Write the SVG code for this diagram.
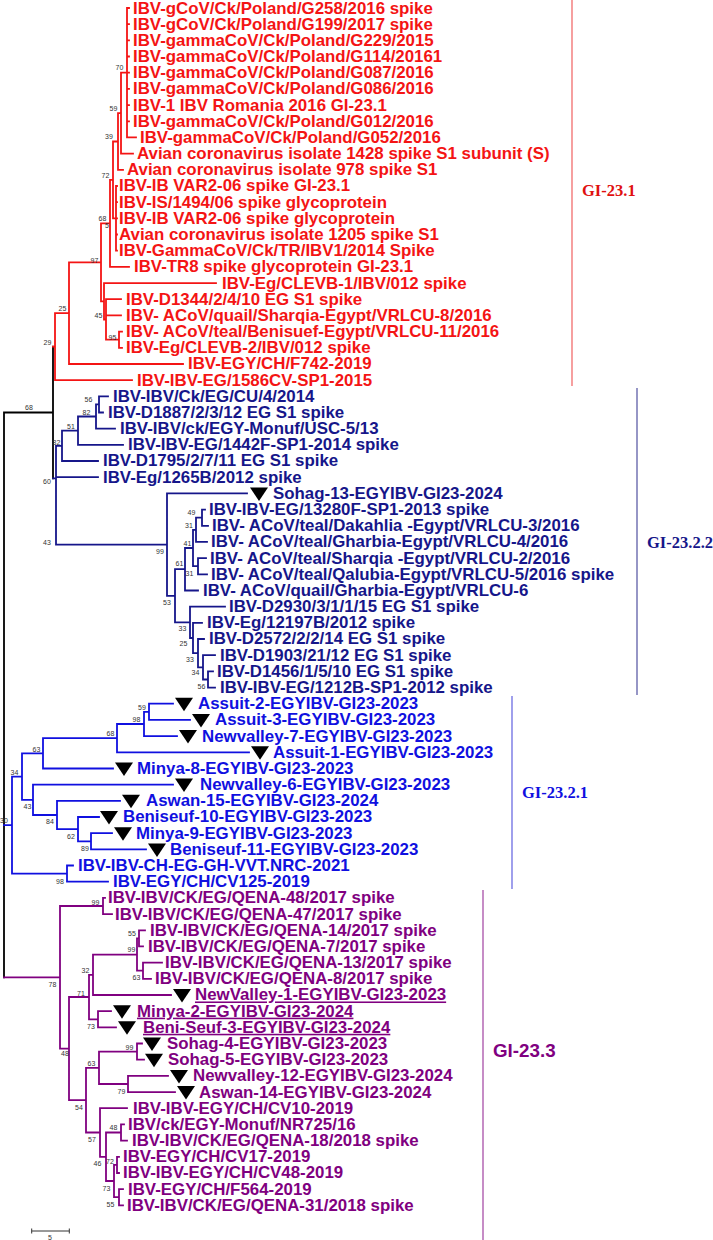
<svg xmlns="http://www.w3.org/2000/svg" xmlns:xlink="http://www.w3.org/1999/xlink" width="713" height="1240" viewBox="0 0 713 1240">
<style>
.t{font-family:"Liberation Sans",Arial,sans-serif;font-weight:bold;font-size:15.7px;transform:scaleX(1.075);transform-box:fill-box;transform-origin:0 50%}
.r{fill:#f41414}.n{fill:#16168a}.b{fill:#1010e0}.p{fill:#800080}
.u{text-decoration:underline}
.bs{font-family:"Liberation Sans",Arial,sans-serif;font-size:7px;fill:#333;text-anchor:middle}
.br{fill:none;stroke-width:1.8;stroke-linecap:square}
.cl{fill:none;stroke-width:1.2}
.gs{font-family:"Liberation Serif","Times New Roman",serif;font-weight:bold;font-size:16.5px}
</style>
<defs>
<path id="tri" d="M0,-6H18L9,7.5Z" fill="#000"/>
</defs>
<rect width="713" height="1240" fill="#fff"/>
<g id="connectors">
<path class="br" stroke="#000" d="M4 412.5V977.3M4 412.5H53M53 346.6V478.4"/>
<path class="br" stroke="#f41414" d="M127 8V137.4M127 8H129M127 24.2H129M127 40.4H129M127 56.5H129M127 72.7H129M127 88.9H129M127 105.1H129M127 121.3H129M127 137.4H136M121 72.7V153.6M121 72.7H127M121 153.6H133M118 113.2V169.8M118 113.2H121M118 169.8H123M116 186V250.7M116 186H117M116 202.2H117M116 218.3H117M116 234.5H117M116 250.7H117M113 141.5V218.3M113 141.5H118M113 218.3H116M110 179.9V266.9M110 179.9H113M110 266.9H129M101 223.4V301.3M101 223.4H110M104 283.1V319.5M101 301.3H104M104 283.1H216M106 299.2V339.7M104 319.5H106M106 299.2H121M106 315.4H121M106 339.7H119M119 331.6V347.8M119 331.6H122M119 347.8H122M69 262.3V364M69 262.3H101M69 364H183M55 313.1V380.1M55 313.1H69M55 380.1H132M53 346.6H55"/>
<path class="br" stroke="#16168a" d="M56 445.9V544.6M53 478.4H56M62 430.7V461M56 445.9H62M62 461H98M56 477.2H98M78 416.5V444.9M62 430.7H78M78 444.9H123M96 404.4V428.7M78 416.5H96M96 428.7H115M99 396.3V412.5M96 404.4H99M99 396.3H108M99 412.5H103M167 493.4V595.8M56 544.6H167M167 493.4H247M175 569.2V622.3M167 595.8H175M185 548V590.5M175 569.2H185M185 590.5H198M193 529.8V566.2M185 548H193M196 517.7V541.9M193 529.8H196M196 541.9H207M202 509.6V525.8M196 517.7H202M202 509.6H205M202 525.8H208M198 558.1V574.3M193 566.2H198M198 558.1H206M198 574.3H207M190 606.7V638M175 622.3H190M190 606.7H225M193 622.8V653.2M190 638H193M193 622.8H202M198 639V667.3M193 653.2H198M198 639H204M203 655.2V679.5M198 667.3H203M203 655.2H215M208 671.4V687.6M203 679.5H208M208 671.4H213M208 687.6H215"/>
<path class="br" stroke="#1010e0" d="M12 776.6V873.6M4 825.1H12M22 753.3V799.8M12 776.6H22M43 738.1V768.5M22 753.3H43M43 768.5H113M117 724V752.3M43 738.1H117M117 752.3H249M144 711.8V736.1M117 724H144M144 736.1H177M149 703.7V719.9M144 711.8H149M149 703.7H173M149 719.9H190M33 784.6V815M22 799.8H33M33 784.6H173M57 800.8V829.1M33 815H57M57 800.8H120M78 817V841.3M57 829.1H78M78 817H99M91 833.2V849.4M78 841.3H91M91 833.2H112M91 849.4H146M67 865.5V881.7M12 873.6H67M67 865.5H73M67 881.7H108"/>
<path class="br" stroke="#800080" d="M60 906V1048.6M4 977.3H60M103 897.9V914.1M60 906H103M103 897.9H105M103 914.1H112M69 997V1100.2M60 1048.6H69M89 974.8V1019.3M69 997H89M93 954.6V995M89 974.8H93M93 995H171M137 938.4V970.7M93 954.6H137M139 930.3V946.4M137 938.4H139M139 930.3H145M139 946.4H143M143 962.6V978.8M137 970.7H143M143 962.6H162M143 978.8H151M98 1011.2V1027.3M89 1019.3H98M98 1011.2H111M98 1027.3H116M86 1067.8V1132.5M69 1100.2H86M99 1051.6V1084M86 1067.8H99M137 1043.5V1059.7M99 1051.6H137M137 1043.5H142M137 1059.7H144M128 1075.9V1092.1M99 1084H128M128 1075.9H168M128 1092.1H175M100 1108.2V1156.8M86 1132.5H100M100 1108.2H127M106 1132.5V1181M100 1156.8H106M121 1124.4V1140.6M106 1132.5H121M121 1124.4H124M121 1140.6H127M114 1164.9V1197.2M106 1181H114M117 1156.8V1173M114 1164.9H117M117 1156.8H119M117 1173H119M119 1189.1V1205.3M114 1197.2H119M119 1189.1H123M119 1205.3H123"/>
</g>
<g id="clades">
<line class="cl" stroke="#f06060" x1="572" y1="0" x2="572" y2="386"/>
<text class="gs" fill="#e01010" x="582" y="196">GI-23.1</text>
<line class="cl" stroke="#5050a0" x1="637" y1="388" x2="637" y2="695"/>
<text class="gs" fill="#16168a" x="647" y="548">GI-23.2.2</text>
<line class="cl" stroke="#6060e0" x1="512" y1="696" x2="512" y2="889"/>
<text class="gs" fill="#1010e0" x="522" y="798">GI-23.2.1</text>
<line class="cl" stroke="#a040a0" x1="483" y1="890" x2="483" y2="1240"/>
<text class="t p" style="font-size:17.5px" x="493" y="1057">GI-23.3</text>
</g>
<g id="leaves">
<g id="n1"><text class="t r" x="133" y="13.5">IBV-gCoV/Ck/Poland/G258/2016 spike</text></g>
<g id="n2"><text class="t r" x="133" y="29.7">IBV-gCoV/Ck/Poland/G199/2017 spike</text></g>
<g id="n3"><text class="t r" x="133" y="45.9">IBV-gammaCoV/Ck/Poland/G229/2015</text></g>
<g id="n4"><text class="t r" x="133" y="62">IBV-gammaCoV/Ck/Poland/G114/20161</text></g>
<g id="n5"><text class="t r" x="133" y="78.2">IBV-gammaCoV/Ck/Poland/G087/2016</text></g>
<g id="n6"><text class="t r" x="133" y="94.4">IBV-gammaCoV/Ck/Poland/G086/2016</text></g>
<g id="n7"><text class="t r" x="133" y="110.6">IBV-1 IBV Romania 2016 GI-23.1</text></g>
<g id="n8"><text class="t r" x="133" y="126.8">IBV-gammaCoV/Ck/Poland/G012/2016</text></g>
<g id="n9"><text class="t r" x="140" y="142.9">IBV-gammaCoV/Ck/Poland/G052/2016</text></g>
<g id="n10"><text class="t r" x="137" y="159.1">Avian coronavirus isolate 1428 spike S1 subunit (S)</text></g>
<g id="n11"><text class="t r" x="127" y="175.3">Avian coronavirus isolate 978 spike S1</text></g>
<g id="n12"><text class="t r" x="119" y="191.5">IBV-IB VAR2-06 spike GI-23.1</text></g>
<g id="n13"><text class="t r" x="119" y="207.7">IBV-IS/1494/06 spike glycoprotein</text></g>
<g id="n14"><text class="t r" x="119" y="223.8">IBV-IB VAR2-06 spike glycoprotein</text></g>
<g id="n15"><text class="t r" x="119" y="240">Avian coronavirus isolate 1205 spike S1</text></g>
<g id="n16"><text class="t r" x="119" y="256.2">IBV-GammaCoV/Ck/TR/IBV1/2014 Spike</text></g>
<g id="n17"><text class="t r" x="134" y="272.4">IBV-TR8 spike glycoprotein GI-23.1</text></g>
<g id="n18"><text class="t r" x="222" y="288.6">IBV-Eg/CLEVB-1/IBV/012 spike</text></g>
<g id="n19"><text class="t r" x="126" y="304.7">IBV-D1344/2/4/10 EG S1 spike</text></g>
<g id="n20"><text class="t r" x="126" y="320.9">IBV- ACoV/quail/Sharqia-Egypt/VRLCU-8/2016</text></g>
<g id="n21"><text class="t r" x="126" y="337.1">IBV- ACoV/teal/Benisuef-Egypt/VRLCU-11/2016</text></g>
<g id="n22"><text class="t r" x="126" y="353.3">IBV-Eg/CLEVB-2/IBV/012 spike</text></g>
<g id="n23"><text class="t r" x="188" y="369.5">IBV-EGY/CH/F742-2019</text></g>
<g id="n24"><text class="t r" x="137" y="385.6">IBV-IBV-EG/1586CV-SP1-2015</text></g>
<g id="n25"><text class="t n" x="113" y="401.8">IBV-IBV/Ck/EG/CU/4/2014</text></g>
<g id="n26"><text class="t n" x="108" y="418">IBV-D1887/2/3/12 EG S1 spike</text></g>
<g id="n27"><text class="t n" x="120" y="434.2">IBV-IBV/ck/EGY-Monuf/USC-5/13</text></g>
<g id="n28"><text class="t n" x="128" y="450.4">IBV-IBV-EG/1442F-SP1-2014 spike</text></g>
<g id="n29"><text class="t n" x="103" y="466.5">IBV-D1795/2/7/11 EG S1 spike</text></g>
<g id="n30"><text class="t n" x="103" y="482.7">IBV-Eg/1265B/2012 spike</text></g>
<g id="n31"><use href="#tri" x="250" y="493.4"/><text class="t n" x="273" y="498.9">Sohag-13-EGYIBV-GI23-2024</text></g>
<g id="n32"><text class="t n" x="209" y="515.1">IBV-IBV-EG/13280F-SP1-2013 spike</text></g>
<g id="n33"><text class="t n" x="212" y="531.3">IBV- ACoV/teal/Dakahlia -Egypt/VRLCU-3/2016</text></g>
<g id="n34"><text class="t n" x="211" y="547.4">IBV- ACoV/teal/Gharbia-Egypt/VRLCU-4/2016</text></g>
<g id="n35"><text class="t n" x="210" y="563.6">IBV- ACoV/teal/Sharqia -Egypt/VRLCU-2/2016</text></g>
<g id="n36"><text class="t n" x="211" y="579.8">IBV- ACoV/teal/Qalubia-Egypt/VRLCU-5/2016 spike</text></g>
<g id="n37"><text class="t n" x="203" y="596">IBV- ACoV/quail/Gharbia-Egypt/VRLCU-6</text></g>
<g id="n38"><text class="t n" x="229" y="612.2">IBV-D2930/3/1/1/15 EG S1 spike</text></g>
<g id="n39"><text class="t n" x="207" y="628.3">IBV-Eg/12197B/2012 spike</text></g>
<g id="n40"><text class="t n" x="209" y="644.5">IBV-D2572/2/2/14 EG S1 spike</text></g>
<g id="n41"><text class="t n" x="220" y="660.7">IBV-D1903/21/12 EG S1 spike</text></g>
<g id="n42"><text class="t n" x="217" y="676.9">IBV-D1456/1/5/10 EG S1 spike</text></g>
<g id="n43"><text class="t n" x="220" y="693.1">IBV-IBV-EG/1212B-SP1-2012 spike</text></g>
<g id="n44"><use href="#tri" x="175" y="703.7"/><text class="t b" x="198" y="709.2">Assuit-2-EGYIBV-GI23-2023</text></g>
<g id="n45"><use href="#tri" x="192" y="719.9"/><text class="t b" x="215" y="725.4">Assuit-3-EGYIBV-GI23-2023</text></g>
<g id="n46"><use href="#tri" x="179" y="736.1"/><text class="t b" x="202" y="741.6">Newvalley-7-EGYIBV-GI23-2023</text></g>
<g id="n47"><use href="#tri" x="251" y="752.3"/><text class="t b" x="273" y="757.8">Assuit-1-EGYIBV-GI23-2023</text></g>
<g id="n48"><use href="#tri" x="115" y="768.5"/><text class="t b" x="137" y="774">Minya-8-EGYIBV-GI23-2023</text></g>
<g id="n49"><use href="#tri" x="175" y="784.6"/><text class="t b" x="200" y="790.1">Newvalley-6-EGYIBV-GI23-2023</text></g>
<g id="n50"><use href="#tri" x="122" y="800.8"/><text class="t b" x="146" y="806.3">Aswan-15-EGYIBV-GI23-2024</text></g>
<g id="n51"><use href="#tri" x="100" y="817"/><text class="t b" x="123" y="822.5">Beniseuf-10-EGYIBV-GI23-2023</text></g>
<g id="n52"><use href="#tri" x="114" y="833.2"/><text class="t b" x="136" y="838.7">Minya-9-EGYIBV-GI23-2023</text></g>
<g id="n53"><use href="#tri" x="148" y="849.4"/><text class="t b" x="170" y="854.9">Beniseuf-11-EGYIBV-GI23-2023</text></g>
<g id="n54"><text class="t b" x="78" y="871">IBV-IBV-CH-EG-GH-VVT.NRC-2021</text></g>
<g id="n55"><text class="t b" x="113" y="887.2">IBV-EGY/CH/CV125-2019</text></g>
<g id="n56"><text class="t p" x="108" y="903.4">IBV-IBV/CK/EG/QENA-48/2017 spike</text></g>
<g id="n57"><text class="t p" x="115" y="919.6">IBV-IBV/CK/EG/QENA-47/2017 spike</text></g>
<g id="n58"><text class="t p" x="150" y="935.8">IBV-IBV/CK/EG/QENA-14/2017 spike</text></g>
<g id="n59"><text class="t p" x="148" y="951.9">IBV-IBV/CK/EG/QENA-7/2017 spike</text></g>
<g id="n60"><text class="t p" x="165" y="968.1">IBV-IBV/CK/EG/QENA-13/2017 spike</text></g>
<g id="n61"><text class="t p" x="155" y="984.3">IBV-IBV/CK/EG/QENA-8/2017 spike</text></g>
<g id="n62"><use href="#tri" x="173" y="995"/><text class="t p u" x="195" y="1000.5">NewValley-1-EGYIBV-GI23-2023</text></g>
<g id="n63"><use href="#tri" x="113" y="1011.2"/><text class="t p u" x="137" y="1016.7">Minya-2-EGYIBV-GI23-2024</text></g>
<g id="n64"><use href="#tri" x="118" y="1027.3"/><text class="t p u" x="143" y="1032.8">Beni-Seuf-3-EGYIBV-GI23-2024</text></g>
<g id="n65"><use href="#tri" x="143" y="1043.5"/><text class="t p" x="167" y="1049">Sohag-4-EGYIBV-GI23-2023</text></g>
<g id="n66"><use href="#tri" x="145" y="1059.7"/><text class="t p" x="168" y="1065.2">Sohag-5-EGYIBV-GI23-2023</text></g>
<g id="n67"><use href="#tri" x="170" y="1075.9"/><text class="t p" x="193" y="1081.4">Newvalley-12-EGYIBV-GI23-2024</text></g>
<g id="n68"><use href="#tri" x="177" y="1092.1"/><text class="t p" x="199" y="1097.6">Aswan-14-EGYIBV-GI23-2024</text></g>
<g id="n69"><text class="t p" x="133" y="1113.7">IBV-IBV-EGY/CH/CV10-2019</text></g>
<g id="n70"><text class="t p" x="128" y="1129.9">IBV/ck/EGY-Monuf/NR725/16</text></g>
<g id="n71"><text class="t p" x="132" y="1146.1">IBV-IBV/CK/EG/QENA-18/2018 spike</text></g>
<g id="n72"><text class="t p" x="123" y="1162.3">IBV-EGY/CH/CV17-2019</text></g>
<g id="n73"><text class="t p" x="123" y="1178.5">IBV-IBV-EGY/CH/CV48-2019</text></g>
<g id="n74"><text class="t p" x="128" y="1194.6">IBV-EGY/CH/F564-2019</text></g>
<g id="n75"><text class="t p" x="127" y="1210.8">IBV-IBV/CK/EG/QENA-31/2018 spike</text></g>
</g>
<g id="support">
<text class="bs" x="119.5" y="69.5">70</text>
<text class="bs" x="113.5" y="110.5">59</text>
<text class="bs" x="109" y="138.5">39</text>
<text class="bs" x="105.5" y="177.5">72</text>
<text class="bs" x="102.5" y="220.5">68</text>
<text class="bs" x="107" y="227.5">5</text>
<text class="bs" x="94.5" y="262.5">97</text>
<text class="bs" x="98.5" y="317.5">45</text>
<text class="bs" x="112.5" y="339.5">95</text>
<text class="bs" x="62.5" y="310.5">25</text>
<text class="bs" x="47.5" y="344.5">29</text>
<text class="bs" x="29" y="409.5">68</text>
<text class="bs" x="88.5" y="401.5">56</text>
<text class="bs" x="86.5" y="414.5">82</text>
<text class="bs" x="71" y="428.5">51</text>
<text class="bs" x="56.5" y="444.5">82</text>
<text class="bs" x="47" y="483.5">60</text>
<text class="bs" x="47" y="544.5">43</text>
<text class="bs" x="160" y="553.5">99</text>
<text class="bs" x="191.5" y="514.5">49</text>
<text class="bs" x="189" y="527.5">31</text>
<text class="bs" x="187.5" y="545.5">41</text>
<text class="bs" x="179.5" y="565.5">61</text>
<text class="bs" x="189.5" y="575.5">31</text>
<text class="bs" x="167" y="604.5">53</text>
<text class="bs" x="182.5" y="630.5">33</text>
<text class="bs" x="183.5" y="645.5">25</text>
<text class="bs" x="190" y="661.5">33</text>
<text class="bs" x="195.5" y="674.5">34</text>
<text class="bs" x="201.5" y="688.5">56</text>
<text class="bs" x="142" y="709.5">59</text>
<text class="bs" x="136.5" y="721.5">98</text>
<text class="bs" x="110.5" y="735.5">68</text>
<text class="bs" x="36.5" y="751.5">63</text>
<text class="bs" x="14.5" y="774.5">34</text>
<text class="bs" x="27.5" y="808.5">43</text>
<text class="bs" x="50" y="823.5">84</text>
<text class="bs" x="71" y="838.5">62</text>
<text class="bs" x="85" y="850.5">89</text>
<text class="bs" x="4" y="822.5">30</text>
<text class="bs" x="60" y="883.5">98</text>
<text class="bs" x="95.5" y="904.5">99</text>
<text class="bs" x="132" y="935.5">55</text>
<text class="bs" x="131.5" y="951.5">99</text>
<text class="bs" x="136.5" y="979.5">63</text>
<text class="bs" x="85.5" y="972.5">32</text>
<text class="bs" x="81" y="995.5">71</text>
<text class="bs" x="91" y="1028.5">73</text>
<text class="bs" x="52.5" y="986.5">78</text>
<text class="bs" x="129.5" y="1049.5">99</text>
<text class="bs" x="91.5" y="1065.5">63</text>
<text class="bs" x="121.5" y="1093.5">79</text>
<text class="bs" x="79" y="1109.5">54</text>
<text class="bs" x="65" y="1055.5">48</text>
<text class="bs" x="113.5" y="1129.5">48</text>
<text class="bs" x="92" y="1141.5">57</text>
<text class="bs" x="97.5" y="1165.5">46</text>
<text class="bs" x="110" y="1163.5">72</text>
<text class="bs" x="106.5" y="1190.5">73</text>
<text class="bs" x="110.5" y="1206.5">55</text>
</g>
<g id="scale">
<path d="M31.7 1231H69.3M31.7 1228.5V1233.5M69.3 1228.5V1233.5" stroke="#333" stroke-width="1" fill="none"/>
<text class="bs" x="50" y="1240">5</text>
</g>
</svg>
